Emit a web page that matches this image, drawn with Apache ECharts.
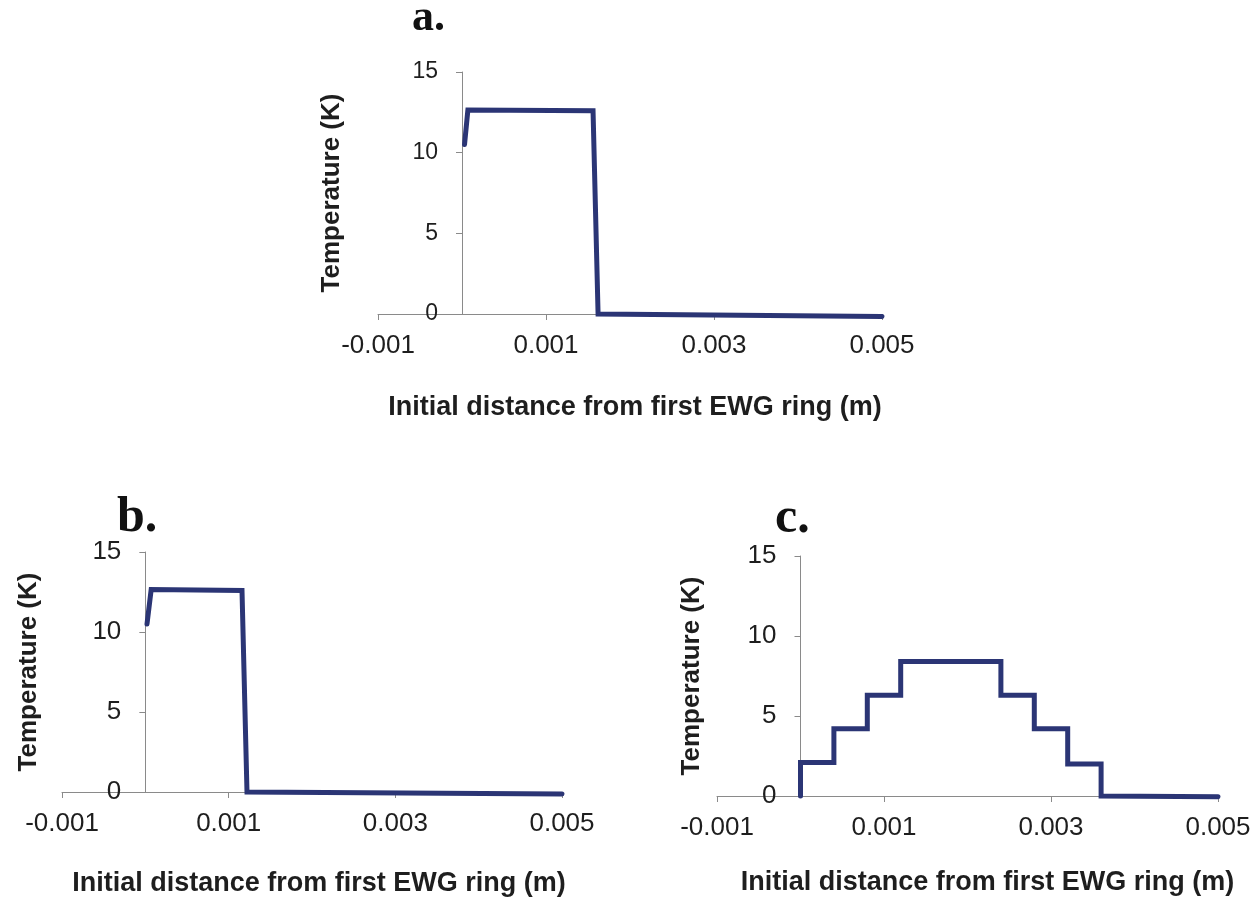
<!DOCTYPE html>
<html>
<head>
<meta charset="utf-8">
<script src="https://cdn.jsdelivr.net/npm/echarts@6/dist/echarts.min.js"></script>
<style>
html,body{margin:0;padding:0;background:#fff;}
#chart{width:1260px;height:901px;}
</style>
</head>
<body>
<div id="chart"></div>
<script>
// ---- data (x in metres, y in K) ----
const xTicks = [-0.001, 0.001, 0.003, 0.005];
const yTicks = [0, 5, 10, 15];
const panelTitles = ['a.', 'b.', 'c.'];
const xName = 'Initial distance from first EWG ring (m)';
const yName = 'Temperature (K)';

const aX = [0.00003, 0.00007, 0.00156, 0.00162, 0.005];
const aY = [10.5, 12.65, 12.6, 0, -0.15];

const bX = [0.00002, 0.00007, 0.00116, 0.00122, 0.005];
const bY = [10.5, 12.65, 12.6, 0, -0.12];

const cX = [0, 0, 0.0004, 0.0004, 0.0008, 0.0008, 0.0012, 0.0012, 0.0024, 0.0024, 0.0028, 0.0028, 0.0032, 0.0032, 0.0036, 0.0036, 0.005];
const cY = [0, 2.1, 2.1, 4.2, 4.2, 6.3, 6.3, 8.4, 8.4, 6.3, 6.3, 4.2, 4.2, 2.0, 2.0, 0, -0.05];

const zip = (xs, ys) => xs.map((x, i) => [x, ys[i]]);

const LINE = '#2b3575';
const AXIS = '#8a8a8a';
const TXT = '#1e1e1e';
const SANS = 'Liberation Sans, Arial, sans-serif';

const grids = [
  {left: 378, top: 72, width: 504, height: 242, outerBoundsMode: 'none', containLabel: false},
  {left: 62, top: 552, width: 500, height: 240, outerBoundsMode: 'none', containLabel: false},
  {left: 717, top: 556, width: 501, height: 240, outerBoundsMode: 'none', containLabel: false}
];
const yGaps = [117, 104, 96];
const xGaps = [80, 78, 73];
const xNamePad = [[0,0,0,10],[0,0,0,14],[0,0,0,40]];
const yLabelSize = [23, 26, 26];

const xMin = xTicks[0], xMax = xTicks[xTicks.length - 1];
// y axis drawn where x = 0 (shifted right from the grid's left edge)
const yOffset = g => -((0 - xMin) / (xMax - xMin)) * g.width;

function xAxis(i) {
  return {
    type: 'value', gridIndex: i,
    min: xMin, max: xMax, interval: xTicks[1] - xTicks[0],
    name: xName, nameLocation: 'middle', nameGap: xGaps[i],
    nameTextStyle: {fontFamily: SANS, fontWeight: 'bold', fontSize: 27, color: TXT, padding: xNamePad[i]},
    axisLine: {show: true, onZero: false, lineStyle: {color: AXIS, width: 1}},
    axisTick: {show: true, inside: false, length: 6, lineStyle: {color: AXIS}},
    axisLabel: {fontFamily: SANS, fontSize: 26, color: TXT, margin: 19, formatter: v => v.toFixed(3)},
    splitLine: {show: false}
  };
}
function yAxis(i) {
  return {
    type: 'value', gridIndex: i, position: 'left', offset: yOffset(grids[i]),
    min: yTicks[0], max: yTicks[yTicks.length - 1], interval: yTicks[1] - yTicks[0],
    name: yName, nameLocation: 'middle', nameGap: yGaps[i], nameRotate: 90,
    nameTextStyle: {fontFamily: SANS, fontWeight: 'bold', fontSize: 26, color: TXT},
    axisLine: {show: true, onZero: false, lineStyle: {color: AXIS, width: 1}},
    axisTick: {show: true, inside: false, length: 6, lineStyle: {color: AXIS}},
    axisLabel: {fontFamily: SANS, fontSize: yLabelSize[i], color: TXT, margin: 24},
    splitLine: {show: false}
  };
}
function series(i, data) {
  return {
    type: 'line', xAxisIndex: i, yAxisIndex: i, data: data,
    showSymbol: false, symbol: 'none', clip: false, animation: false,
    lineStyle: {color: LINE, width: 5, join: 'miter', cap: 'round'}
  };
}

const titlePos = [{left: 412, top: -3, size: 44}, {left: 117, top: 493, size: 50}, {left: 775, top: 494, size: 50}];

const option = {
  backgroundColor: '#fff',
  animation: false,
  title: panelTitles.map((t, i) => ({
    text: t, left: titlePos[i].left, top: titlePos[i].top, padding: 0,
    textStyle: {fontFamily: 'Liberation Serif, Times New Roman, serif', fontWeight: 'bold', fontSize: titlePos[i].size, lineHeight: titlePos[i].size, color: '#111'}
  })),
  grid: grids,
  xAxis: [0, 1, 2].map(xAxis),
  yAxis: [0, 1, 2].map(yAxis),
  series: [series(0, zip(aX, aY)), series(1, zip(bX, bY)), series(2, zip(cX, cY))]
};

const chart = echarts.init(document.getElementById('chart'), null, {renderer: 'canvas'});
chart.setOption(option);
</script>
</body>
</html>
